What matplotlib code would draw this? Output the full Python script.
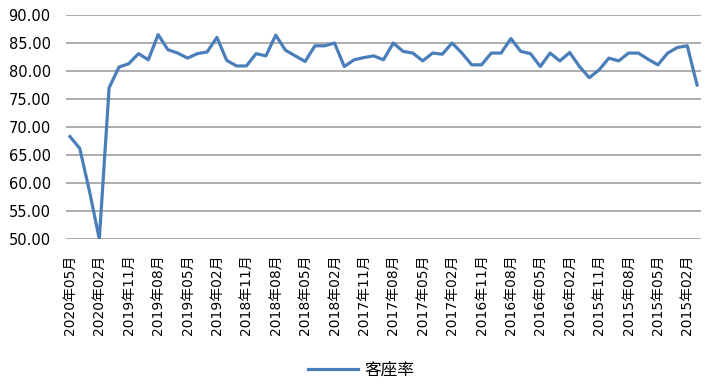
import matplotlib.pyplot as plt

plt.rcParams['font.family'] = ['DejaVu Sans', 'Noto Sans CJK SC']

# 客座率, monthly, from 2020年05月 back to 2015年01月
load_factor = [68.3, 66.2, 58.5, 50.0, 77.0, 80.7, 81.3, 83.1, 82.0, 86.5,
               83.8, 83.2, 82.3, 83.1, 83.4, 86.0, 81.9, 80.9, 80.9, 83.1,
               82.7, 86.4, 83.7, 82.7, 81.7, 84.5, 84.5, 85.0, 80.8, 82.0,
               82.4, 82.7, 82.0, 85.0, 83.5, 83.2, 81.8, 83.2, 83.0, 85.0,
               83.2, 81.1, 81.1, 83.2, 83.2, 85.8, 83.5, 83.1, 80.8, 83.2,
               81.8, 83.3, 80.8, 78.8, 80.2, 82.3, 81.8, 83.2, 83.2, 82.1,
               81.1, 83.2, 84.2, 84.5, 77.5]

tick_labels = ['2020年05月', '2020年02月', '2019年11月', '2019年08月', '2019年05月',
               '2019年02月', '2018年11月', '2018年08月', '2018年05月', '2018年02月',
               '2017年11月', '2017年08月', '2017年05月', '2017年02月', '2016年11月',
               '2016年08月', '2016年05月', '2016年02月', '2015年11月', '2015年08月',
               '2015年05月', '2015年02月']

fig = plt.figure(figsize=(7.08, 3.84), dpi=100)
ax = fig.add_axes([66/708, 145/384, 635/708, 224/384])

x = list(range(len(load_factor)))
ax.plot(x, load_factor, color='#4a7ebb', linewidth=2.3, label='客座率')

ax.set_ylim(50, 90)
ax.set_yticks([50, 55, 60, 65, 70, 75, 80, 85, 90])
ax.set_yticklabels(['%.2f' % v for v in range(50, 91, 5)])
ax.set_xlim(-0.4, len(load_factor) - 0.6)
ax.set_xticks(x[::3])
ax.set_xticklabels(tick_labels, rotation=90)

ax.grid(axis='y', color='#a0a0a0', linewidth=1.2)
ax.set_axisbelow(True)
for s in ax.spines.values():
    s.set_visible(False)
ax.tick_params(axis='y', length=0, pad=11, labelsize=10.5)
ax.tick_params(axis='x', length=0, pad=11, labelsize=10)

fig.legend(loc='lower center', bbox_to_anchor=(0.51, -0.025), frameon=False,
           fontsize=12, handlelength=3, handletextpad=0.4)

fig.savefig('out.png', dpi=100)
